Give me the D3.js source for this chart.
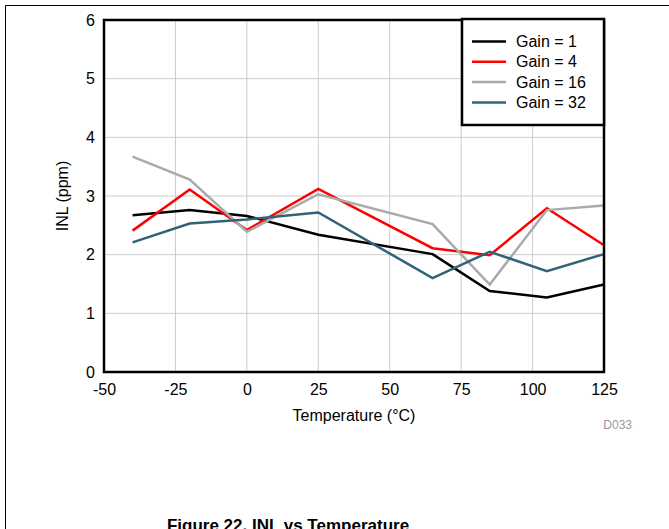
<!DOCTYPE html>
<html>
<head>
<meta charset="utf-8">
<script src="https://cdn.jsdelivr.net/npm/d3@7"></script>
<style>
  body { margin: 0; background: #fff; }
  text { font-family: "Liberation Sans", Arial, sans-serif; }
</style>
</head>
<body>
<div id="vis"></div>
<script>
var w = 669;
var h = 529;

// temperatures (°C) where INL was measured
var temps = [-40, -20, 0, 25, 65, 85, 105, 125];

var gain1  = [2.67, 2.76, 2.66, 2.34, 2.01, 1.38, 1.27, 1.49];
var gain4  = [2.41, 3.11, 2.42, 3.12, 2.11, 1.99, 2.79, 2.16];
var gain16 = [3.67, 3.28, 2.39, 3.03, 2.52, 1.49, 2.76, 2.84];
var gain32 = [2.21, 2.53, 2.60, 2.72, 1.60, 2.05, 1.72, 2.01];

var seriesNames = ['Gain = 1', 'Gain = 4', 'Gain = 16', 'Gain = 32'];
var seriesColors = ['#000000', '#ff0000', '#aaaaaa', '#2f6478'];
var xTicks = [-50, -25, 0, 25, 50, 75, 100, 125];
var yTicks = [0, 1, 2, 3, 4, 5, 6];

var allSeries = [gain1, gain4, gain16, gain32];

var svg = d3.select('#vis')
  .append('svg')
    .attr('width', w)
    .attr('height', h);

// page frame (top and left edge of the datasheet box)
svg.append('path')
  .attr('d', 'M5.5,' + h + ' L5.5,5.5 L' + w + ',5.5')
  .style('fill', 'none')
  .style('stroke', '#000')
  .style('stroke-width', 1);

var x = d3.scaleLinear()
  .domain([-50, 125])
  .range([104, 604]);

var y = d3.scaleLinear()
  .domain([0, 6])
  .range([372, 20]);

// gridlines
svg.selectAll('.vgrid')
  .data(xTicks)
  .enter()
  .append('line')
    .attr('x1', function(d) { return x(d); })
    .attr('x2', function(d) { return x(d); })
    .attr('y1', y(0))
    .attr('y2', y(6))
    .style('stroke', '#cccccc')
    .style('stroke-width', 1);

svg.selectAll('.hgrid')
  .data(yTicks)
  .enter()
  .append('line')
    .attr('x1', x(-50))
    .attr('x2', x(125))
    .attr('y1', function(d) { return y(d); })
    .attr('y2', function(d) { return y(d); })
    .style('stroke', '#cccccc')
    .style('stroke-width', 1);

// axes, tick labels only (plain hyphen for negatives)
var fmt = function(d) { return String(d); };

var xAxis = svg.append('g')
  .attr('transform', 'translate(0,' + y(0) + ')')
  .call(d3.axisBottom(x).tickValues(xTicks).tickFormat(fmt).tickSize(0).tickPadding(12));

var yAxis = svg.append('g')
  .attr('transform', 'translate(' + x(-50) + ',0)')
  .call(d3.axisLeft(y).tickValues(yTicks).tickFormat(fmt).tickSize(0).tickPadding(9));

[xAxis, yAxis].forEach(function(g) {
  g.select('.domain').remove();
  g.selectAll('text')
    .style('font-family', '"Liberation Sans", Arial, sans-serif')
    .style('font-size', '16px')
    .style('fill', '#000');
});

// lines
var line = d3.line()
  .x(function(d, i) { return x(temps[i]); })
  .y(function(d) { return y(d); });

svg.selectAll('.series')
  .data(allSeries)
  .enter()
  .append('path')
    .attr('d', line)
    .style('fill', 'none')
    .style('stroke', function(d, i) { return seriesColors[i]; })
    .style('stroke-width', 2.5)
    .style('stroke-linejoin', 'miter');

// plot border
svg.append('rect')
  .attr('x', x(-50))
  .attr('y', y(6))
  .attr('width', x(125) - x(-50))
  .attr('height', y(0) - y(6))
  .style('fill', 'none')
  .style('stroke', '#000')
  .style('stroke-width', 2.5);

// legend
var legend = svg.append('g');

legend.append('rect')
  .attr('x', 462)
  .attr('y', 19)
  .attr('width', 142)
  .attr('height', 106)
  .style('fill', '#fff')
  .style('stroke', '#000')
  .style('stroke-width', 2.5);

var items = legend.selectAll('.item')
  .data(seriesNames)
  .enter()
  .append('g')
    .attr('transform', function(d, i) { return 'translate(472,' + (41.5 + i * 20.3) + ')'; });

items.append('line')
  .attr('x1', 0)
  .attr('x2', 34)
  .style('stroke', function(d, i) { return seriesColors[i]; })
  .style('stroke-width', 2.5);

items.append('text')
  .attr('x', 44)
  .attr('dy', '0.35em')
  .style('font-size', '16px')
  .text(function(d) { return d; });

// axis titles
svg.append('text')
  .attr('x', 354)
  .attr('y', 421)
  .attr('text-anchor', 'middle')
  .style('font-size', '16px')
  .text('Temperature (°C)');

svg.append('text')
  .attr('transform', 'translate(68,' + 196 + ') rotate(-90)')
  .attr('text-anchor', 'middle')
  .style('font-size', '16px')
  .text('INL (ppm)');

svg.append('text')
  .attr('x', 632)
  .attr('y', 429)
  .attr('text-anchor', 'end')
  .style('font-size', '12px')
  .style('fill', '#999')
  .text('D033');

// figure caption, cut by the bottom edge as in the datasheet crop
svg.append('text')
  .attr('x', 288)
  .attr('y', 531)
  .attr('text-anchor', 'middle')
  .style('font-size', '17px')
  .style('font-weight', 'bold')
  .text('Figure 22. INL vs Temperature');
</script>
</body>
</html>
